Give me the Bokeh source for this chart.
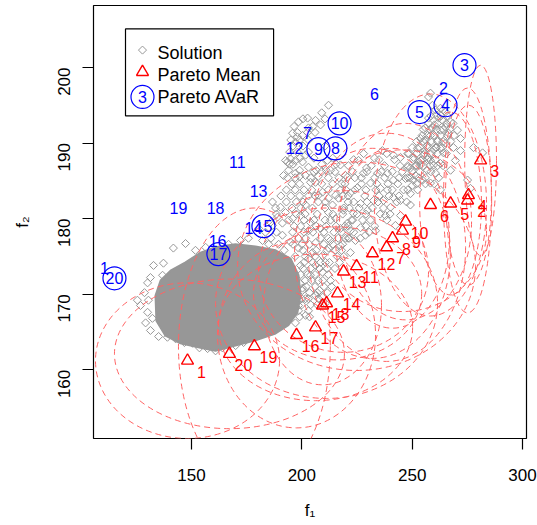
import math
from bokeh.plotting import figure
from bokeh.models import FixedTicker, Range1d, ColumnDataSource
from bokeh.core.properties import value
from bokeh.embed import file_html
from bokeh.resources import INLINE

# ---------------- data ----------------
# scattered solutions (f1, f2): outer / visible ones
solution_f1 = [
    147.3, 141.8, 137.3, 132.8, 136.9, 130.1, 125.5, 130.1, 129.2, 131.4, 131.4, 135.1, 139.1, 142.8,
    146.8, 150.5, 153.6, 157.3, 160.9, 164.0, 170.0, 173.6, 176.3, 180.8, 186.7, 194.4, 198.9, 200.3,
    199.4, 208.0, 209.4, 210.7, 151.8, 156.4, 166.8, 172.2, 175.8, 182.2, 126.9, 130.5, 132.3, 128.7,
    180.4, 186.7, 191.2, 195.8, 201.7, 206.2, 198.5, 204.8, 209.4, 212.1, 206.2, 209.4, 200.3, 201.7,
    206.2, 198.5, 201.7, 197.1, 203.0, 207.5, 203.9, 199.4, 210.7, 213.0, 215.3, 203.0, 194.9,
    190.3, 189.0, 185.8, 191.2, 192.6, 195.8, 201.7, 204.8, 207.5, 210.7, 213.9, 216.6, 206.2, 209.4,
    212.1, 215.3, 199.4, 203.9, 208.5, 217.5, 219.8, 186.7, 188.1,
    212.1, 206.2, 198.5, 203.0, 195.8, 200.3, 197.1, 201.7, 193.5, 192.6, 194.4, 194.9, 197.1, 200.3,
    203.0, 191.7, 197.1, 201.7, 203.9, 212.1, 215.3, 198.0, 208.5, 202.6, 211.6, 213.0, 217.5, 219.8,
    220.7, 217.5, 222.0, 225.2, 227.9, 231.1, 234.3, 238.8, 241.5, 235.6, 238.8, 237.0, 241.5, 246.1,
    249.2, 250.6, 247.9, 244.7, 241.5, 250.6, 253.8, 223.4, 226.6, 229.8, 231.1, 226.6, 222.0, 218.9,
    220.7, 232.5, 240.2, 224.3, 228.8, 217.5, 222.0, 221.1, 225.7, 229.3, 232.9, 236.5,
    259.2, 262.8, 265.1, 261.0, 257.4, 263.7, 267.4, 260.1, 256.0, 262.8, 266.5, 258.3, 253.8, 261.5,
    265.1, 256.9, 252.4, 259.7, 264.2, 255.1, 258.3, 262.8, 253.8, 249.2, 256.9, 260.6, 251.5, 247.0,
    254.7, 258.3, 250.1,
    262.0, 259.2, 256.0, 261.0, 257.4, 252.9, 259.7, 255.6, 265.1, 262.8,
    270.5, 271.9, 268.7, 275.1, 276.4, 277.8, 271.9, 258.3, 257.4, 269.6, 267.4, 262.8, 244.7, 281.9,
    244.7, 249.2, 237.9, 242.4, 233.4,
]
solution_f2 = [
    176.7, 176.1, 174.1, 173.8, 172.5, 171.5, 169.2, 167.6, 166.2, 165.2, 172.2, 164.4, 164.3, 164.1,
    163.6, 163.5, 162.9, 162.8, 162.5, 162.9, 163.2, 163.6, 164.8, 165.2, 165.6, 166.9, 169.2, 170.5,
    171.4, 170.5, 169.6, 168.8, 175.8, 176.2, 176.6, 177.1, 177.4, 177.1, 168.5, 169.2, 166.8, 170.2,
    178.7, 179.1, 177.8, 178.2, 177.4, 176.8, 176.1, 175.5, 175.1, 176.1, 173.8, 172.9, 170.8, 169.4,
    169.8, 168.5, 167.2, 166.2, 174.7, 171.8, 172.5, 173.8, 174.2, 177.1, 175.8, 178.4, 176.9,
    181.5, 180.2, 179.5, 179.4, 180.8, 180.0, 181.8, 181.4, 183.1, 182.2, 181.8, 182.7, 184.8, 183.5,
    180.8, 180.0, 180.4, 179.5, 178.7, 178.7, 177.4, 182.2, 181.4,
    195.0, 193.0, 192.8, 192.0, 191.3, 191.0, 190.1, 188.4, 187.5, 187.7, 187.2, 187.9, 187.7, 187.5,
    186.8, 185.7, 186.0, 185.7, 184.8, 182.7, 183.1, 190.8, 192.4, 193.3, 187.7, 186.4, 187.1, 185.7,
    185.5, 183.8, 183.4, 184.1, 186.0, 184.7, 186.0, 186.0, 185.1, 184.0, 183.8, 182.4, 182.8, 183.8,
    183.3, 185.1, 186.8, 188.1, 188.4, 188.1, 187.7, 180.7, 182.0, 181.1, 179.8, 178.8, 178.4, 181.1,
    179.4, 182.4, 181.5, 177.1, 177.8, 176.4, 175.5, 187.0, 187.7, 186.7, 188.0, 189.0,
    195.0, 194.6, 194.1, 193.7, 193.3, 193.0, 192.8, 192.4, 192.0, 191.7, 191.3, 191.0, 190.6, 190.4,
    190.0, 189.7, 189.3, 189.1, 188.7, 188.4, 187.7, 187.3, 187.1, 186.7, 186.4, 186.0, 185.7, 185.3,
    185.1, 184.7, 184.4,
    193.3, 192.0, 190.4, 189.4, 188.1, 187.5, 187.1, 189.0, 192.1, 189.3,
    191.7, 190.6, 189.4, 185.1, 184.0, 189.4, 189.0, 196.6, 196.1, 187.7, 186.4, 183.8, 182.4, 188.7,
    180.4, 181.8, 180.4, 179.1, 178.4,
]

# further solutions inside the crowded bands (row by row)
crowd_f1 = [
    # band right of the core
    205.5, 209.0, 215.0,
    193.5, 197.0, 204.0, 212.0, 216.8,
    195.5, 199.0, 209.0, 214.0, 218.0,
    193.0, 197.0, 201.0, 204.5, 212.0, 220.0,
    190.5, 195.0, 199.0, 203.0, 206.0, 218.5,
    193.0, 197.5, 200.5, 207.5, 221.0,
    195.5, 199.5, 210.5, 219.0,
    188.5, 197.5, 201.5, 207.0, 214.0, 218.5,
    194.0, 201.0, 205.5, 210.5, 213.0, 222.5,
    196.5, 199.5, 206.5, 211.0, 215.5, 219.5,
    183.5, 188.5, 201.0, 205.0, 210.0, 214.5, 218.0,
    186.0, 198.5, 208.5, 212.0, 216.5, 221.0,
    185.0, 189.5, 196.0, 200.0, 203.5, 210.0, 214.0, 218.5,
    192.0, 200.5, 206.5, 211.5, 218.0,
    197.0, 201.5, 206.0, 216.0, 219.0,
    201.0, 205.0, 208.5, 212.5, 217.0,
    200.5, 204.0, 208.0, 211.5, 215.0,
    199.5, 202.5, 206.0, 212.0,
    201.5, 204.5, 209.5, 213.0,
    202.0, 206.0, 210.0, 213.5,
    203.5, 207.0, 211.5,
    200.0, 203.0, 207.5,
    200.0, 204.0, 207.0,
    198.5, 203.0,
    199.0, 203.5,
    # middle band
    228.0, 238.5, 248.0,
    223.5, 235.0, 242.0,
    231.5, 237.5, 244.5, 252.0,
    223.0, 229.5, 236.0, 241.0, 245.5,
    224.0, 227.0, 233.0, 237.5, 244.0, 248.0,
    219.5, 227.0, 234.0, 239.0, 243.5,
    224.0, 229.0, 233.5, 241.0, 248.0, 252.5,
    221.0, 228.5, 235.0, 239.5, 244.0,
    223.5, 229.5, 234.5, 243.0, 247.5,
    221.5, 226.0, 232.0, 237.0,
    225.0, 229.0, 235.5, 240.0,
    223.0, 227.5, 238.5,
    221.0, 229.0, 233.0,
    223.5, 230.5,
    221.5, 226.5,
    # right cluster
    260.5, 264.0,
    258.5, 263.0, 266.0,
    257.5, 261.5, 265.5, 268.5,
    255.0, 258.0, 261.0, 264.0, 267.0,
    254.5, 257.0, 260.0, 263.0, 266.0, 269.0,
    252.0, 255.0, 258.5, 261.5, 264.0, 267.5,
    250.0, 253.5, 257.0, 260.5, 263.5,
    248.5, 252.0, 255.5, 258.5, 261.5, 265.5,
    250.5, 254.5, 257.0, 260.5,
    248.0, 251.5, 255.0, 258.0, 261.5, 264.0,
    250.0, 253.5, 258.5,
    249.0, 253.0, 256.0, 262.0,
    252.0, 256.0, 260.0,
    # upper middle cluster
    209.0,
    200.5, 210.5,
    196.5, 205.0,
    198.0, 202.5, 206.0,
    195.0, 199.0, 203.0,
    196.0, 200.5, 210.5,
    194.5, 198.0, 203.0,
    199.0, 205.5, 214.0,
    196.0, 209.0, 215.5,
    194.0, 199.0, 206.5, 211.0,
    199.0, 207.5,
]
crowd_f2 = [
    186.2, 186.2, 186.2,
    185.4, 185.4, 185.4, 185.4, 185.4,
    184.6, 184.6, 184.6, 184.6, 184.6,
    183.8, 183.8, 183.8, 183.8, 183.8, 183.8,
    183.0, 183.0, 183.0, 183.0, 183.0, 183.0,
    182.2, 182.2, 182.2, 182.2, 182.2,
    181.4, 181.4, 181.4, 181.4,
    180.6, 180.6, 180.6, 180.6, 180.6, 180.6,
    179.8, 179.8, 179.8, 179.8, 179.8, 179.8,
    179.0, 179.0, 179.0, 179.0, 179.0, 179.0,
    178.2, 178.2, 178.2, 178.2, 178.2, 178.2, 178.2,
    177.4, 177.4, 177.4, 177.4, 177.4, 177.4,
    176.6, 176.6, 176.6, 176.6, 176.6, 176.6, 176.6, 176.6,
    175.8, 175.8, 175.8, 175.8, 175.8,
    175.0, 175.0, 175.0, 175.0, 175.0,
    174.2, 174.2, 174.2, 174.2, 174.2,
    173.4, 173.4, 173.4, 173.4, 173.4,
    172.6, 172.6, 172.6, 172.6,
    171.8, 171.8, 171.8, 171.8,
    171.0, 171.0, 171.0, 171.0,
    170.2, 170.2, 170.2,
    169.4, 169.4, 169.4,
    168.6, 168.6, 168.6,
    167.8, 167.8,
    167.0, 167.0,
    188.6, 188.6, 188.6,
    187.8, 187.8, 187.8,
    187.0, 187.0, 187.0, 187.0,
    186.2, 186.2, 186.2, 186.2, 186.2,
    185.4, 185.4, 185.4, 185.4, 185.4, 185.4,
    184.6, 184.6, 184.6, 184.6, 184.6,
    183.8, 183.8, 183.8, 183.8, 183.8, 183.8,
    183.0, 183.0, 183.0, 183.0, 183.0,
    182.2, 182.2, 182.2, 182.2, 182.2,
    181.4, 181.4, 181.4, 181.4,
    180.6, 180.6, 180.6, 180.6,
    179.8, 179.8, 179.8,
    179.0, 179.0, 179.0,
    178.2, 178.2,
    177.4, 177.4,
    194.4, 194.4,
    193.6, 193.6, 193.6,
    192.6, 192.6, 192.6, 192.6,
    191.8, 191.8, 191.8, 191.8, 191.8,
    191.0, 191.0, 191.0, 191.0, 191.0, 191.0,
    190.2, 190.2, 190.2, 190.2, 190.2, 190.2,
    189.4, 189.4, 189.4, 189.4, 189.4,
    188.6, 188.6, 188.6, 188.6, 188.6, 188.6,
    187.8, 187.8, 187.8, 187.8,
    187.0, 187.0, 187.0, 187.0, 187.0, 187.0,
    186.2, 186.2, 186.2,
    185.4, 185.4, 185.4, 185.4,
    184.6, 184.6, 184.6,
    194.0,
    193.2, 193.2,
    192.2, 192.2,
    191.4, 191.4, 191.4,
    190.4, 190.4, 190.4,
    189.6, 189.6, 189.6,
    188.8, 188.8, 188.8,
    188.0, 188.0, 188.0,
    187.2, 187.2, 187.2,
    186.4, 186.4, 186.4, 186.4,
    185.6, 185.6,
]

# outline of the densely overlapping core of the solution cloud
core_f1 = [133.7, 136.0, 140.5, 147.3, 154.1, 160.9, 169.9, 179.0, 188.1, 194.9, 198.5, 199.4, 198.0,
           193.9, 188.1, 179.0, 168.6, 160.9, 154.1, 145.0, 138.2, 134.1]
core_f2 = [169.8, 171.8, 173.1, 174.2, 175.5, 176.2, 176.6, 176.3, 175.8, 174.7, 172.5, 169.8, 167.6,
           165.9, 164.8, 163.9, 163.1, 162.5, 162.9, 163.5, 164.5, 166.5]

pareto_labels = [str(i) for i in range(1, 21)]
mean_f1 = [148.2, 275.1, 281.0, 275.5, 267.4, 258.3, 238.4, 241.1, 245.6, 247.0,
           224.8, 232.0, 218.9, 216.2, 209.4, 197.6, 206.2, 211.2, 178.5, 167.2]
mean_f2 = [161.2, 182.4, 187.7, 183.1, 182.0, 181.8, 176.2, 177.4, 178.4, 179.6,
           173.7, 175.4, 173.0, 170.1, 168.5, 164.6, 165.6, 168.8, 163.1, 162.1]
# half extents of the dashed spread ellipses around the mean points
spread_f1 = [41.7, 10.9, 7.2, 10.4, 14.0, 25.4, 35.8, 25.8, 38.1, 29.9,
             53.9, 35.3, 38.5, 38.1, 26.7, 35.8, 44.0, 50.3, 34.4, 52.1]
spread_f2 = [10.3, 14.9, 12.6, 11.9, 12.1, 14.7, 15.1, 11.9, 10.7, 13.0,
             13.8, 13.9, 10.7, 8.8, 10.5, 12.3, 9.7, 12.6, 18.3, 9.9]
avar_f1 = [110.6, 264.2, 273.7, 265.1, 253.3, 232.9, 202.6, 215.2, 207.5, 217.1,
           170.8, 196.7, 180.4, 178.1, 182.6, 161.8, 162.2, 160.9, 144.1, 115.1]
avar_f2 = [173.4, 197.3, 200.3, 195.0, 194.1, 196.5, 191.3, 189.3, 189.2, 192.6,
           187.5, 189.3, 183.7, 178.8, 179.0, 177.0, 175.3, 181.4, 181.4, 172.1]
avar_circled = [False, False, True, True, True, False, False, True, True, True,
                False, False, False, False, True, False, True, False, False, True]

x_ticks = [150, 200, 250, 300]
y_ticks = [160, 170, 180, 190, 200]

# ---------------- figure ----------------
FONT = "Liberation Sans"
GRAY = "#979797"
ELL = "#ff6464"
RED = "#ff0000"
BLUE = "#0000ff"

p = figure(width=537, height=525, output_backend="svg", toolbar_location=None,
           x_range=Range1d(105.6, 301.8), y_range=Range1d(150.9, 208.2),
           min_border_left=93, min_border_right=11, min_border_top=5, min_border_bottom=87)
p.xgrid.visible = False
p.ygrid.visible = False
p.background_fill_color = "white"
p.border_fill_color = "white"
p.outline_line_color = "black"
p.outline_line_alpha = 1.0
p.outline_line_width = 1.2

for ax in (p.xaxis[0], p.yaxis[0]):
    ax.axis_line_color = None
    ax.minor_tick_line_color = None
    ax.major_tick_in = 0
    ax.major_tick_out = 11
    ax.major_tick_line_color = "black"
    ax.major_tick_line_width = 1.2
    ax.major_label_text_font = FONT
    ax.major_label_text_font_size = "17px"
    ax.major_label_text_color = "black"
    ax.axis_label_text_font = FONT
    ax.axis_label_text_font_size = "17px"
    ax.axis_label_text_font_style = "normal"
    ax.axis_label_text_color = "black"

p.xaxis.ticker = FixedTicker(ticks=x_ticks)
p.yaxis.ticker = FixedTicker(ticks=y_ticks)
p.xaxis.axis_label = "f₁"
p.yaxis.axis_label = "f₂"
p.yaxis.major_label_orientation = math.pi / 2
p.xaxis.major_label_standoff = 19
p.yaxis.major_label_standoff = 18
p.xaxis.axis_label_standoff = 17
p.yaxis.axis_label_standoff = 18

# solution cloud
p.patch(core_f1, core_f2, fill_color=GRAY, line_color=GRAY, line_width=2)
p.scatter(solution_f1 + crowd_f1, solution_f2 + crowd_f2, marker="square", angle=math.pi / 4,
          size=5.7, fill_color=None, line_color=GRAY, line_width=1)

# spread ellipses
ell_src = ColumnDataSource(dict(x=mean_f1, y=mean_f2,
                                w=[2 * s for s in spread_f1], h=[2 * s for s in spread_f2]))
p.ellipse(x="x", y="y", width="w", height="h", source=ell_src, fill_color=None,
          line_color=ELL, line_width=1, line_dash="6 4")

# pareto mean
mean_src = ColumnDataSource(dict(x=mean_f1, y=mean_f2, t=pareto_labels))
p.scatter(x="x", y="y", source=mean_src, marker="triangle", size=12,
          fill_color=None, line_color=RED, line_width=1.4)
p.text(x="x", y="y", text="t", source=mean_src, x_offset=14, y_offset=11,
       text_font=value(FONT), text_font_size="16px", text_color=RED,
       text_align="center", text_baseline="middle")

# pareto AVaR
cx = [a for a, c in zip(avar_f1, avar_circled) if c]
cy = [b for b, c in zip(avar_f2, avar_circled) if c]
p.scatter(cx, cy, marker="circle", size=23, fill_color=None, line_color=BLUE, line_width=1.2)
avar_src = ColumnDataSource(dict(x=avar_f1, y=avar_f2, t=pareto_labels))
p.text(x="x", y="y", text="t", source=avar_src,
       text_font=value(FONT), text_font_size="16px", text_color=BLUE,
       text_align="center", text_baseline="middle")

# legend (drawn by hand like R's legend box)
p.quad(left=[120.1], right=[187.2], bottom=[193.6], top=[205.1],
       fill_color="white", line_color="black", line_width=1.2)
p.scatter([127.8], [202.3], marker="square", angle=math.pi / 4, size=5.7,
          fill_color=None, line_color=GRAY, line_width=1)
p.scatter([127.8], [199.4], marker="triangle", size=12, fill_color=None,
          line_color=RED, line_width=1.4)
p.scatter([127.8], [196.1], marker="circle", size=23, fill_color=None,
          line_color=BLUE, line_width=1.2)
p.text([127.8], [196.1], text=["3"], text_font=value(FONT), text_font_size="16px",
       text_color=BLUE, text_align="center", text_baseline="middle")
p.text([134.6, 134.6, 134.6], [201.9, 199.0, 196.1],
       text=["Solution", "Pareto Mean", "Pareto AVaR"],
       text_font=value(FONT), text_font_size="18px", text_color="black",
       text_align="left", text_baseline="middle")

open("out.html", "w").write(file_html(p, INLINE))
